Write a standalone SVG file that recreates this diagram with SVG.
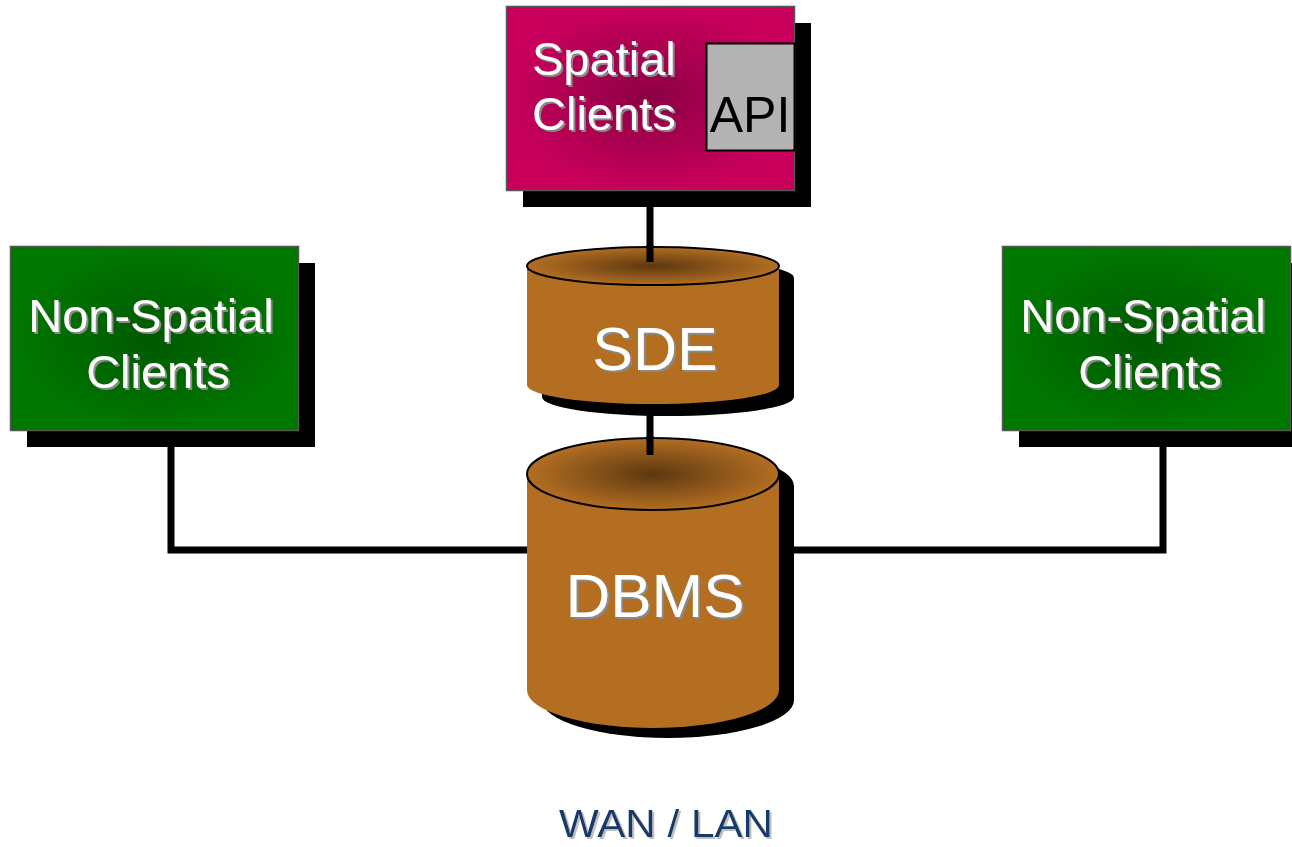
<svg xmlns="http://www.w3.org/2000/svg" width="1292" height="847" viewBox="0 0 1292 847">
<defs>
<radialGradient id="gMag" cx="0.5" cy="0.5" r="0.5">
<stop offset="0" stop-color="#8c0044"/>
<stop offset="1" stop-color="#c8005c"/>
</radialGradient>
<radialGradient id="gGreen" cx="0.5" cy="0.5" r="0.5">
<stop offset="0" stop-color="#005800"/>
<stop offset="1" stop-color="#007800"/>
</radialGradient>
<radialGradient id="gTop" cx="0.5" cy="0.5" r="0.5">
<stop offset="0" stop-color="#5c3810"/>
<stop offset="1" stop-color="#b36e22"/>
</radialGradient>
<filter id="ts" x="-10%" y="-10%" width="120%" height="130%">
<feDropShadow dx="2" dy="2" stdDeviation="0.4" flood-color="#8a8a8a" flood-opacity="1"/>
</filter>
<filter id="ts2" x="-10%" y="-10%" width="120%" height="130%">
<feDropShadow dx="2" dy="2" stdDeviation="0.6" flood-color="#c0c0c0" flood-opacity="1"/>
</filter>
<style>
.lbl{font-family:"Liberation Sans",Arial,sans-serif;text-anchor:middle}
.w{fill:#ffffff;filter:url(#ts)}
.wire{stroke:#000;stroke-width:7;fill:none}
.body{fill:#b36e22}
.edge{fill:none;stroke:#000;stroke-width:2}
</style>
</defs>
<rect width="1292" height="847" fill="#fff"/>

<g id="connectors">
<line class="wire" x1="650" y1="200" x2="650" y2="262"/>
<line class="wire" x1="650" y1="400" x2="650" y2="455"/>
<polyline class="wire" points="171,440 171,550 540,550"/>
<polyline class="wire" points="780,550 1163,550 1163,440"/>
</g>

<g id="spatial-clients">
<rect x="523" y="23" width="288" height="184" fill="#000"/>
<rect x="506.5" y="6.5" width="288" height="184" fill="url(#gMag)" stroke="#555" stroke-width="1.5"/>
<rect x="706.5" y="43.5" width="88" height="107" fill="#b3b3b3" stroke="#000" stroke-width="2"/>
<text class="lbl" x="750" y="132" font-size="50" fill="#000">API</text>
<text class="lbl w" x="532" y="75" font-size="47" style="text-anchor:start">Spatial</text>
<text class="lbl w" x="532" y="130" font-size="47" style="text-anchor:start">Clients</text>
</g>

<g id="nonspatial-left">
<rect x="27" y="263" width="288" height="184" fill="#000"/>
<rect x="10.5" y="246.5" width="288" height="184" fill="url(#gGreen)" stroke="#555" stroke-width="1.5"/>
<text class="lbl w" x="151" y="332" font-size="47">Non-Spatial</text>
<text class="lbl w" x="158" y="388" font-size="47">Clients</text>
</g>

<g id="nonspatial-right">
<rect x="1019" y="263" width="288" height="184" fill="#000"/>
<rect x="1002.5" y="246.5" width="288" height="184" fill="url(#gGreen)" stroke="#555" stroke-width="1.5"/>
<text class="lbl w" x="1143" y="332" font-size="47">Non-Spatial</text>
<text class="lbl w" x="1150" y="388" font-size="47">Clients</text>
</g>

<g id="sde">
<path d="M542,278 A126,19 0 0 1 794,278 L794,397 A126,19 0 0 1 542,397 Z" fill="#000"/>
<path d="M527,266 L527,385 A126,19 0 0 0 779,385 L779,266 Z" class="body"/>
<ellipse cx="653" cy="266" rx="126" ry="19" fill="url(#gTop)"/>
<line class="wire" x1="650" y1="245" x2="650" y2="262"/>
<ellipse cx="653" cy="266" rx="126" ry="19" class="edge"/>
<text class="lbl w" x="655" y="370" font-size="61">SDE</text>
</g>

<g id="dbms">
<path d="M542,486 A126,36 0 0 1 794,486 L794,700 A126,38 0 0 1 542,700 Z" fill="#000"/>
<path d="M527,474 L527,690 A126,38 0 0 0 779,690 L779,474 Z" class="body"/>
<ellipse cx="653" cy="474" rx="126" ry="36" fill="url(#gTop)"/>
<line class="wire" x1="650" y1="436" x2="650" y2="455"/>
<ellipse cx="653" cy="474" rx="126" ry="36" class="edge"/>
<text class="lbl w" x="655" y="617" font-size="62">DBMS</text>
</g>

<g id="wan-lan">
<text class="lbl" x="666" y="837" font-size="38" fill="#123a6b" filter="url(#ts2)" textLength="214" lengthAdjust="spacingAndGlyphs">WAN / LAN</text>
</g>
</svg>
